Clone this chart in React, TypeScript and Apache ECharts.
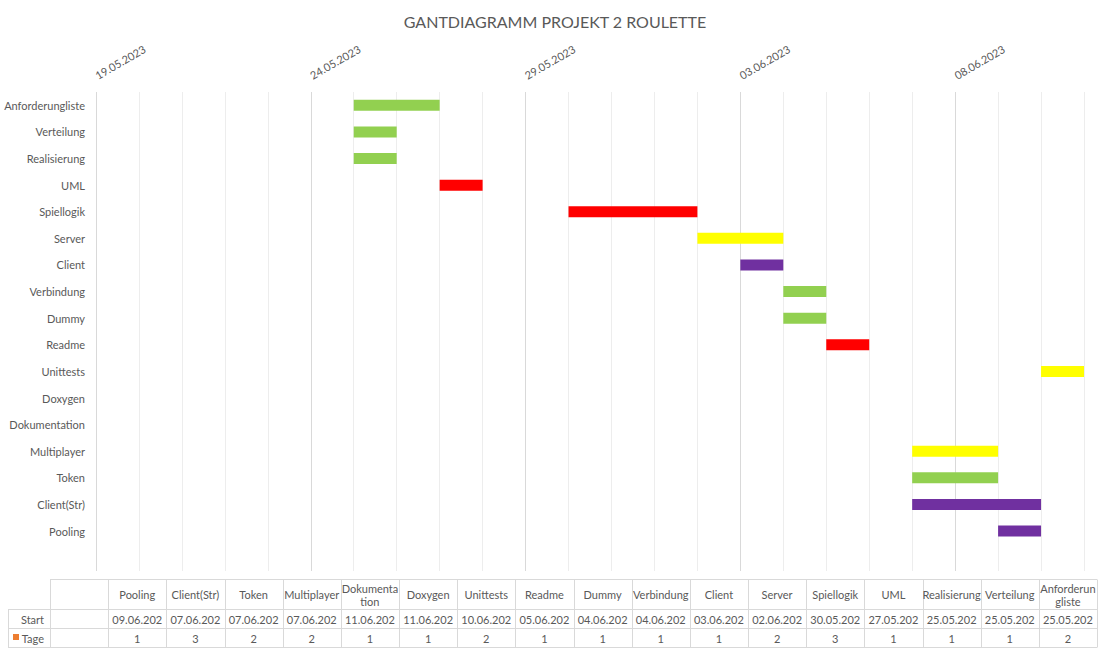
import React, { useEffect, useRef } from "react";
import * as echarts from "echarts";

// ---------- data ----------
const categories = [
  "",
  "Pooling",
  "Client(Str)",
  "Token",
  "Multiplayer",
  "Dokumentation",
  "Doxygen",
  "Unittests",
  "Readme",
  "Dummy",
  "Verbindung",
  "Client",
  "Server",
  "Spiellogik",
  "UML",
  "Realisierung",
  "Verteilung",
  "Anforderungliste",
];
const startDates = [
  "",
  "09.06.2023",
  "07.06.2023",
  "07.06.2023",
  "07.06.2023",
  "11.06.2023",
  "11.06.2023",
  "10.06.2023",
  "05.06.2023",
  "04.06.2023",
  "04.06.2023",
  "03.06.2023",
  "02.06.2023",
  "30.05.2023",
  "27.05.2023",
  "25.05.2023",
  "25.05.2023",
  "25.05.2023",
];
const durations: (number | null)[] = [null, 1, 3, 2, 2, 1, 1, 2, 1, 1, 1, 1, 2, 3, 1, 1, 1, 2];

const GREEN = "#92D050";
const RED = "#FF0000";
const YELLOW = "#FFFF00";
const PURPLE = "#7030A0";
const barColors = [
  "",
  PURPLE,
  PURPLE,
  GREEN,
  YELLOW,
  YELLOW,
  YELLOW,
  YELLOW,
  RED,
  GREEN,
  GREEN,
  PURPLE,
  YELLOW,
  RED,
  RED,
  GREEN,
  GREEN,
  GREEN,
];
const axisStart = "19.05.2023";
const axisEnd = "11.06.2023";
const labelStepDays = 5;
const seriesNames = ["Start", "Tage"];
const title = "GANTDIAGRAMM PROJEKT 2 ROULETTE";

// ---------- helpers ----------
const DAY = 86400000;
function dayNum(s: string): number {
  const [d, m, y] = s.split(".").map(Number);
  return Math.round(Date.UTC(y, m - 1, d) / DAY);
}
function fmtDay(n: number): string {
  const dt = new Date(n * DAY);
  const dd = String(dt.getUTCDate()).padStart(2, "0");
  const mm = String(dt.getUTCMonth() + 1).padStart(2, "0");
  return `${dd}.${mm}.${dt.getUTCFullYear()}`;
}

const FONT = "Lato, 'Open Sans', sans-serif";
const TXT = "#595959";

export default function App() {
  const ref = useRef<HTMLDivElement>(null);

  useEffect(() => {
    if (!ref.current) return;
    const chart = echarts.init(ref.current, undefined, { renderer: "svg" });
    const minD = dayNum(axisStart);
    const maxD = dayNum(axisEnd);

    const startVals = startDates.map((s) => (s ? dayNum(s) : null));
    const durData = durations.map((v, i) =>
      v == null ? null : { value: v, itemStyle: { color: barColors[i] } }
    );

    // data table (graphic)
    const tLeft = 50;
    const tRight = 1097;
    const colW = (tRight - tLeft) / categories.length;
    const yH = 579.5;
    const yS = 609.5;
    const yT = 628.5;
    const yB = 647.5;
    const border = "#d9d9d9";
    const els: any[] = [];
    const line = (x1: number, y1: number, x2: number, y2: number) =>
      els.push({
        type: "line",
        shape: { x1, y1, x2, y2 },
        style: { stroke: border, lineWidth: 1 },
        silent: true,
      });
    line(tLeft, yH, tRight, yH);
    line(8, yS, tRight, yS);
    line(8, yT, tRight, yT);
    line(8, yB, tRight, yB);
    line(8.5, yS, 8.5, yB);
    for (let i = 0; i <= categories.length; i++) {
      const x = Math.round(tLeft + i * colW) + 0.5;
      line(x, yH, x, yB);
    }
    const txtStyle = { fontSize: 11, fill: TXT, fontFamily: FONT };
    categories.forEach((c, i) => {
      const cx = tLeft + (i + 0.5) * colW;
      els.push({
        type: "text",
        x: cx,
        y: (yH + yS) / 2,
        silent: true,
        style: {
          ...txtStyle,
          text: c,
          align: "center",
          verticalAlign: "middle",
          width: colW + 2,
          overflow: "breakAll",
          lineHeight: 13,
        },
      });
      els.push({
        type: "text",
        x: cx,
        y: (yS + yT) / 2,
        silent: true,
        style: {
          ...txtStyle,
          text: startDates[i].slice(0, 9),
          align: "center",
          verticalAlign: "middle",
        },
      });
      els.push({
        type: "text",
        x: cx,
        y: (yT + yB) / 2,
        silent: true,
        style: {
          ...txtStyle,
          text: durations[i] == null ? "" : String(durations[i]),
          align: "center",
          verticalAlign: "middle",
        },
      });
    });
    els.push({
      type: "text",
      x: 44,
      y: (yS + yT) / 2,
      silent: true,
      style: { ...txtStyle, text: seriesNames[0], align: "right", verticalAlign: "middle" },
    });
    els.push({
      type: "text",
      x: 44,
      y: (yT + yB) / 2,
      silent: true,
      style: { ...txtStyle, text: seriesNames[1], align: "right", verticalAlign: "middle" },
    });
    els.push({
      type: "rect",
      shape: { x: 13, y: 634, width: 6, height: 6 },
      style: { fill: "#ED7D31" },
      silent: true,
    });

    const gridColors = ["#d9d9d9", "#ededed", "#ededed", "#ededed", "#ededed"];

    chart.setOption({
      animation: false,
      backgroundColor: "#ffffff",
      title: {
        text: title,
        left: "center",
        top: 8,
        textStyle: { fontSize: 16, fontWeight: "normal", color: TXT, fontFamily: FONT },
      },
      grid: { left: 96, right: 26, top: 92, bottom: 80, containLabel: false },
      xAxis: {
        type: "value",
        position: "top",
        min: minD,
        max: maxD,
        interval: 1,
        axisLine: { show: false },
        axisTick: { show: false },
        axisLabel: {
          rotate: -30,
          margin: 16,
          fontSize: 11,
          color: TXT,
          fontFamily: FONT,
          showMaxLabel: false,
          formatter: (v: number) =>
            Math.round(v - minD) % labelStepDays === 0 ? fmtDay(Math.round(v)) : "",
        },
        splitLine: { show: true, lineStyle: { color: gridColors, width: 1 } },
      },
      yAxis: {
        type: "category",
        data: categories,
        axisLine: { show: false },
        axisTick: { show: false },
        axisLabel: { fontSize: 11, color: TXT, fontFamily: FONT, margin: 11 },
        splitLine: { show: false },
      },
      series: [
        {
          name: seriesNames[0],
          type: "bar",
          stack: "g",
          data: startVals,
          barWidth: 11,
          itemStyle: { color: "transparent" },
          silent: true,
        },
        {
          name: seriesNames[1],
          type: "bar",
          stack: "g",
          data: durData,
          barWidth: 11,
          clip: true,
          itemStyle: { color: "#ED7D31" },
        },
      ],
      graphic: els,
    });
    return () => chart.dispose();
  }, []);

  return (
    <div
      ref={ref}
      style={{ position: "absolute", left: 0, top: 0, width: 1110, height: 651, background: "#fff" }}
    />
  );
}
